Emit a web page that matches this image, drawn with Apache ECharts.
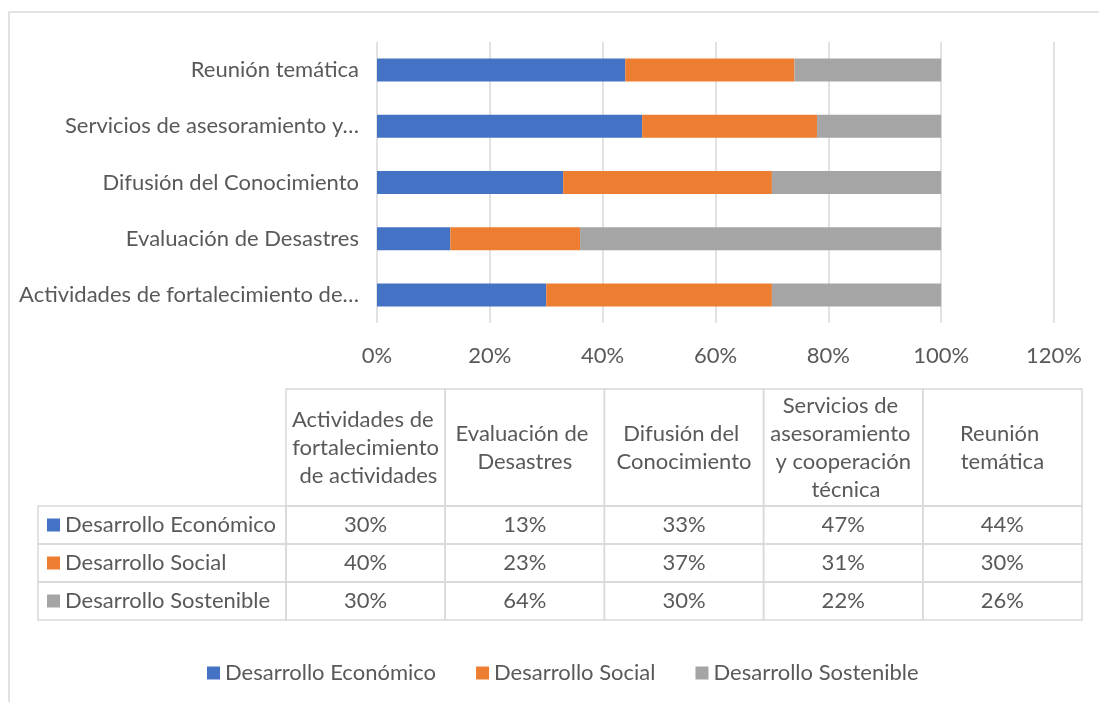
<!DOCTYPE html>
<html>
<head>
<meta charset="utf-8">
<script src="https://cdn.jsdelivr.net/npm/echarts@6/dist/echarts.min.js"></script>
<style>
  body { margin: 0; background: #fff; }
  #chart { width: 1099px; height: 702px; }
</style>
</head>
<body>
<div id="chart"></div>
<script>
// categories, bottom to top as drawn on the axis
var categories = ['Actividades de fortalecimiento de actividades', 'Evaluación de Desastres',
  'Difusión del Conocimiento', 'Servicios de asesoramiento y cooperación técnica', 'Reunión temática'];
var seriesNames = ['Desarrollo Económico', 'Desarrollo Social', 'Desarrollo Sostenible'];
var economico = [30, 13, 33, 47, 44];
var social = [40, 23, 37, 31, 30];
var sostenible = [30, 64, 30, 22, 26];
var colors = ['#4472C4', '#ED7D31', '#A5A5A5'];

var FONT = 'Lato, "Open Sans", sans-serif';
var FS = 22;
var TXT = '#595959';
var LINE = '#d9d9d9';

// word based ellipsis like Excel does on the category labels
var ctx = document.createElement('canvas').getContext('2d');
ctx.font = FS + 'px ' + FONT;
function shorten(label, maxW) {
  if (ctx.measureText(label).width <= maxW) return label;
  var words = label.split(' ');
  while (words.length > 1) {
    words.pop();
    var s = words.join(' ') + '…';
    if (ctx.measureText(s).width <= maxW) return s;
  }
  return words[0] + '…';
}

var allSeries = [economico, social, sostenible];

// table under the plot
function buildTable() {
  var x0 = 38, x1 = 286, colW = 159.2, yHead = 389, yRow = 506, headH = 117, rowH = 38;
  var els = [];
  var font = FS + 'px ' + FONT;
  for (var i = 0; i < categories.length; i++) {
    var cx = x1 + i * colW;
    els.push({ type: 'rect', shape: { x: cx, y: yHead, width: colW, height: headH },
      style: { fill: 'none', stroke: LINE, lineWidth: 1.5 } });
    els.push({ type: 'text', x: cx + colW / 2, y: yHead + headH / 2,
      style: { text: categories[i], font: font, fill: TXT, align: 'center', verticalAlign: 'middle',
        width: 149, overflow: 'break', lineHeight: 28 } });
  }
  for (var r = 0; r < allSeries.length; r++) {
    var ry = yRow + r * rowH;
    els.push({ type: 'rect', shape: { x: x0, y: ry, width: x1 - x0, height: rowH },
      style: { fill: 'none', stroke: LINE, lineWidth: 1.5 } });
    els.push({ type: 'rect', shape: { x: x0 + 9, y: ry + rowH / 2 - 6.5, width: 13, height: 13 },
      style: { fill: colors[r] } });
    els.push({ type: 'text', x: x0 + 27, y: ry + rowH / 2,
      style: { text: seriesNames[r], font: font, fill: TXT, align: 'left', verticalAlign: 'middle' } });
    for (var c = 0; c < categories.length; c++) {
      var vx = x1 + c * colW;
      els.push({ type: 'rect', shape: { x: vx, y: ry, width: colW, height: rowH },
        style: { fill: 'none', stroke: LINE, lineWidth: 1.5 } });
      els.push({ type: 'text', x: vx + colW / 2, y: ry + rowH / 2,
        style: { text: allSeries[r][c] + '%', font: font, fill: TXT, align: 'center', verticalAlign: 'middle' } });
    }
  }
  // outer frame of the chart
  els.push({ type: 'rect', shape: { x: 9, y: 12, width: 1100, height: 700 },
    style: { fill: 'none', stroke: LINE, lineWidth: 1.5 }, z: -1 });
  return els;
}

var myChart = echarts.init(document.getElementById('chart'));
var option = {
  animation: false,
  textStyle: { fontFamily: FONT },
  grid: { left: 377, right: 45, top: 42, bottom: 379 },
  legend: {
    data: seriesNames,
    left: 202,
    top: 657,
    icon: 'rect',
    itemWidth: 13,
    itemHeight: 13,
    itemGap: 40,
    textStyle: { color: TXT, fontSize: FS, fontFamily: FONT }
  },
  xAxis: {
    type: 'value',
    min: 0,
    max: 120,
    interval: 20,
    axisLine: { show: false },
    axisTick: { show: false },
    splitLine: { lineStyle: { color: LINE, width: 1.5 } },
    axisLabel: { color: TXT, fontSize: FS, fontFamily: FONT, margin: 22, formatter: '{value}%' }
  },
  yAxis: {
    type: 'category',
    data: categories,
    axisLine: { show: false },
    axisTick: { show: false },
    axisLabel: {
      color: TXT, fontSize: FS, fontFamily: FONT, margin: 18,
      formatter: function (v) { return shorten(v, 345); }
    }
  },
  series: seriesNames.map(function (name, i) {
    return {
      name: name,
      type: 'bar',
      stack: 'total',
      barCategoryGap: '59%',
      itemStyle: { color: colors[i] },
      data: allSeries[i]
    };
  }),
  graphic: buildTable()
};
myChart.setOption(option);
</script>
</body>
</html>
